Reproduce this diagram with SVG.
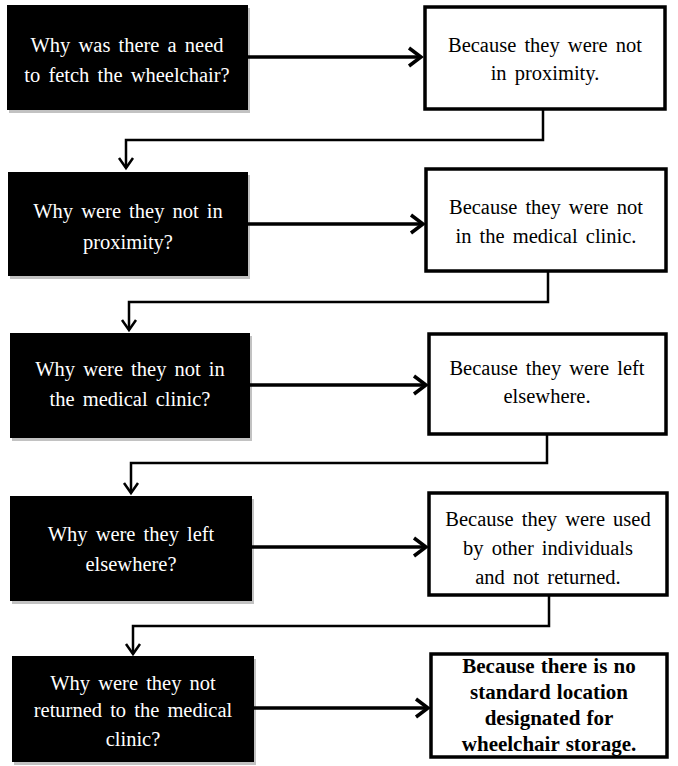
<svg xmlns="http://www.w3.org/2000/svg" width="678" height="766" viewBox="0 0 678 766">
<style>
.q rect.b{fill:#000}
.q rect.s{fill:#9a9a9a;opacity:0.6}
.q text{fill:#fff}
.a rect{fill:#fff;stroke:#000;stroke-width:3.5}
text{font-family:"Liberation Serif","Times New Roman",serif;font-size:20.5px;word-spacing:3px;text-anchor:middle}
.a text{fill:#000}
.bold text{font-weight:bold;font-size:21px;word-spacing:1px}
.c path{fill:none;stroke:#000;stroke-linejoin:miter}
.c .h{stroke-width:3.5}
.c .v{stroke-width:2.5}
.c .hd{stroke-width:3.5}
.c .vd{stroke-width:2.5}
</style>
<rect width="678" height="766" fill="#fff"/>
<g id="q1" class="q"><rect class="s" x="9" y="8" width="241" height="105"/><rect class="b" x="7" y="5" width="241" height="105"/>
<text x="127" y="52">Why was there a need</text><text x="127" y="82">to fetch  the wheelchair?</text></g>
<g id="a1" class="a"><rect x="425" y="7" width="240" height="102"/>
<text x="545" y="52">Because they were not</text><text x="545" y="80">in proximity.</text></g>
<g id="q2" class="q"><rect class="s" x="10" y="175" width="240" height="104"/><rect class="b" x="8" y="172" width="240" height="104"/>
<text x="128" y="218">Why were they not in</text><text x="128" y="249">proximity?</text></g>
<g id="a2" class="a"><rect x="426" y="169" width="240" height="102"/>
<text x="546" y="214">Because they were not</text><text x="546" y="243">in the medical  clinic.</text></g>
<g id="q3" class="q"><rect class="s" x="12" y="336" width="240" height="105"/><rect class="b" x="10" y="333" width="240" height="105"/>
<text x="130" y="376">Why were they not in</text><text x="130" y="406">the medical  clinic?</text></g>
<g id="a3" class="a"><rect x="429" y="334" width="237" height="100"/>
<text x="547" y="375">Because they were left</text><text x="547" y="403">elsewhere.</text></g>
<g id="q4" class="q"><rect class="s" x="12" y="499" width="242" height="105"/><rect class="b" x="10" y="496" width="242" height="105"/>
<text x="131" y="541">Why were they left</text><text x="131" y="571">elsewhere?</text></g>
<g id="a4" class="a"><rect x="429" y="493" width="238" height="102"/>
<text x="548" y="526">Because they were used</text><text x="548" y="555">by other individuals</text><text x="548" y="584">and not returned.</text></g>
<g id="q5" class="q"><rect class="s" x="14" y="659" width="242" height="106"/><rect class="b" x="12" y="656" width="242" height="106"/>
<text x="133" y="690">Why were they not</text><text x="133" y="717">returned to the medical</text><text x="133" y="746">clinic?</text></g>
<g id="a5" class="a bold"><rect x="431" y="654" width="236" height="103"/>
<text x="549" y="673">Because there is no</text><text x="549" y="699">standard  location</text><text x="549" y="725">designated for</text><text x="549" y="751">wheelchair  storage.</text></g>
<g id="connectors" class="c">
<path class="h" d="M248 57H421"/><path class="hd" d="M409 48L421 57L409 66"/>
<path class="v" d="M543 109V140H126V168"/><path class="vd" d="M119 158L126 168L133 158"/>
<path class="h" d="M248 224H423"/><path class="hd" d="M411 215L423 224L411 233"/>
<path class="v" d="M548 271V302H129V330"/><path class="vd" d="M122 320L129 330L136 320"/>
<path class="h" d="M250 385H426"/><path class="hd" d="M414 376L426 385L414 394"/>
<path class="v" d="M547 434V463H131V493"/><path class="vd" d="M124 483L131 493L138 483"/>
<path class="h" d="M252 547H426"/><path class="hd" d="M414 538L426 547L414 556"/>
<path class="v" d="M549 595V626H133V654"/><path class="vd" d="M126 644L133 654L140 644"/>
<path class="h" d="M254 708H428"/><path class="hd" d="M416 699L428 708L416 717"/>
</g>
</svg>
